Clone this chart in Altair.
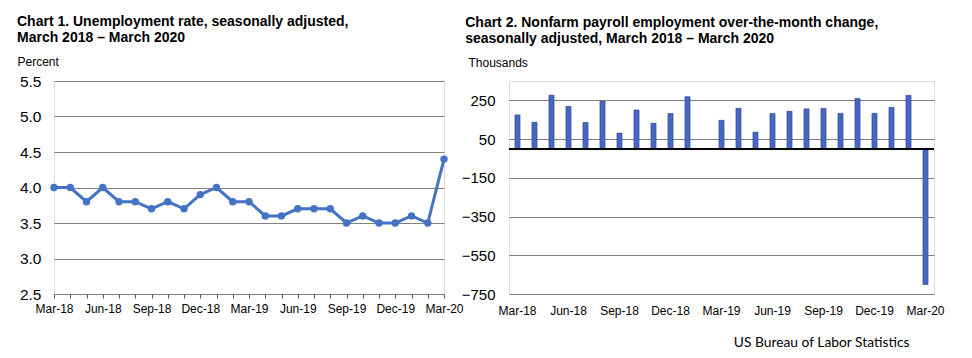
import altair as alt
import pandas as pd

months = ["Mar-18", "Apr-18", "May-18", "Jun-18", "Jul-18", "Aug-18", "Sep-18", "Oct-18",
          "Nov-18", "Dec-18", "Jan-19", "Feb-19", "Mar-19", "Apr-19", "May-19", "Jun-19",
          "Jul-19", "Aug-19", "Sep-19", "Oct-19", "Nov-19", "Dec-19", "Jan-20", "Feb-20", "Mar-20"]
label_months = ["Mar-18", "Jun-18", "Sep-18", "Dec-18", "Mar-19", "Jun-19", "Sep-19", "Dec-19", "Mar-20"]

unemployment = [4.0, 4.0, 3.8, 4.0, 3.8, 3.8, 3.7, 3.8, 3.7, 3.9, 4.0, 3.8, 3.8,
                3.6, 3.6, 3.7, 3.7, 3.7, 3.5, 3.6, 3.5, 3.5, 3.6, 3.5, 4.4]
payroll = [175, 137, 277, 219, 136, 246, 81, 200, 132, 182, 269, 1, 147,
           209, 86, 182, 194, 206, 208, 183, 260, 183, 214, 276, -701]

rate_ticks = [2.5, 3.0, 3.5, 4.0, 4.5, 5.0, 5.5]
payroll_ticks = [-750, -550, -350, -150, 50, 250]

df1 = pd.DataFrame({"month": months, "rate": unemployment})
df2 = pd.DataFrame({"month": months, "change": payroll})

FONT = "Liberation Sans"
label_list = "[" + ",".join("'" + m + "'" for m in label_months) + "]"
label_expr = f"indexof({label_list}, datum.value) >= 0 ? datum.value : ''"

GRID = "#808080"
BLUE = "#4472C4"

# ---- Chart 1
x1 = alt.X("month:N", sort=months, title=None,
           scale=alt.Scale(type="point", padding=0),
           axis=alt.Axis(values=months, labelExpr=label_expr, labelOverlap=False,
                         labelAngle=0, ticks=True, tickSize=4, tickColor="#555555",
                         domain=False, grid=False, labelPadding=5, labelFontSize=12,
                         labelFont=FONT, labelColor="black"))
y1 = alt.Y("rate:Q", scale=alt.Scale(domain=[2.5, 5.5], nice=False, zero=False),
           axis=alt.Axis(values=rate_ticks, format=".1f", grid=True, gridColor=GRID,
                         ticks=False, domain=False, labelFontSize=15.5, labelFont=FONT,
                         labelColor="black", labelPadding=13,
                         title="Percent", titleAngle=0, titleAlign="left",
                         titleBaseline="alphabetic", titleX=-37, titleY=-16,
                         titleFontSize=12, titleFontWeight="normal", titleFont=FONT,
                         titleColor="black"))

line = alt.Chart(df1).mark_line(color=BLUE, strokeWidth=3).encode(x=x1, y=y1)
pts = alt.Chart(df1).mark_point(color=BLUE, filled=True, opacity=1, size=55).encode(x=x1, y=y1)

chart1 = alt.layer(line, pts).properties(
    width=390, height=213,
    title=alt.TitleParams(["Chart 1. Unemployment rate, seasonally adjusted,",
                           "March 2018 \u2013 March 2020"],
                          anchor="start", fontSize=14, font=FONT, fontWeight="bold",
                          lineHeight=16, offset=10, color="black"))

# ---- Chart 2
x2 = alt.X("month:N", sort=months, title=None,
           scale=alt.Scale(paddingInner=0.7, paddingOuter=0.35),
           axis=alt.Axis(labelExpr=label_expr, labelOverlap=False, labelAngle=0,
                         ticks=False, domain=False, grid=False, labelPadding=11,
                         labelFontSize=12, labelFont=FONT, labelColor="black"))
y2 = alt.Y("change:Q", scale=alt.Scale(domain=[-750, 350], nice=False, zero=False),
           axis=alt.Axis(values=payroll_ticks, grid=True, gridColor=GRID, ticks=False,
                         domain=False, labelFontSize=15, labelFont=FONT,
                         labelColor="black", labelPadding=14,
                         title="Thousands", titleAngle=0, titleAlign="left",
                         titleBaseline="alphabetic", titleX=-41, titleY=-15,
                         titleFontSize=12, titleFontWeight="normal", titleFont=FONT,
                         titleColor="black"))

bars = alt.Chart(df2).mark_bar(color="#4668C5", stroke="#2d3f7c", strokeWidth=0.6).encode(x=x2, y=y2)
zero = alt.Chart(df2).mark_rule(color="black", strokeWidth=1).encode(y=alt.datum(0))

chart2 = alt.layer(bars, zero).properties(
    width=425, height=213,
    title=alt.TitleParams(["Chart 2. Nonfarm payroll employment over-the-month change,",
                           "seasonally adjusted, March 2018 \u2013 March 2020"],
                          anchor="start", fontSize=14, font=FONT, fontWeight="bold",
                          lineHeight=16, offset=10, color="black", dx=4))

chart = alt.hconcat(chart1, chart2, spacing=-4).properties(
    padding={"left": 8, "top": 6, "right": 5, "bottom": 0},
    title=alt.TitleParams("US Bureau of Labor Statistics", orient="bottom", anchor="end",
                          fontSize=13.8, font="Lato", fontWeight="normal", color="black",
                          dx=-35, offset=19),
).configure_view(stroke="black", strokeWidth=1).configure(background="white")

chart.save("out.html", embed_options={"renderer": "svg", "actions": False})
